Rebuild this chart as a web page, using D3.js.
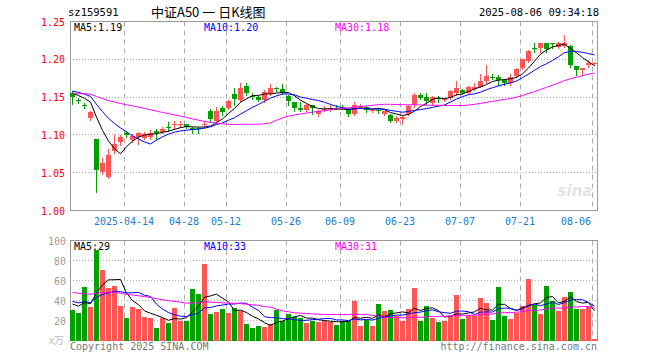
<!DOCTYPE html>
<html><head><meta charset="utf-8">
<script src="https://cdn.jsdelivr.net/npm/d3@7"></script>
<style>body{margin:0;background:#fff}svg{display:block}</style>
</head><body><svg id="c" width="660" height="360"></svg>
<script>
// ---------- data ----------
const dates = ["2025-03-31","2025-04-01","2025-04-02","2025-04-03","2025-04-07","2025-04-08","2025-04-09","2025-04-10","2025-04-11",
"2025-04-14","2025-04-15","2025-04-16","2025-04-17","2025-04-18","2025-04-21","2025-04-22","2025-04-23","2025-04-24","2025-04-25",
"2025-04-28","2025-04-29","2025-04-30","2025-05-06","2025-05-07","2025-05-08","2025-05-09",
"2025-05-12","2025-05-13","2025-05-14","2025-05-15","2025-05-16","2025-05-19","2025-05-20","2025-05-21","2025-05-22","2025-05-23",
"2025-05-26","2025-05-27","2025-05-28","2025-05-29","2025-05-30","2025-06-03","2025-06-04","2025-06-05","2025-06-06",
"2025-06-09","2025-06-10","2025-06-11","2025-06-12","2025-06-13","2025-06-16","2025-06-17","2025-06-18","2025-06-19","2025-06-20",
"2025-06-23","2025-06-24","2025-06-25","2025-06-26","2025-06-27","2025-06-30","2025-07-01","2025-07-02","2025-07-03","2025-07-04",
"2025-07-07","2025-07-08","2025-07-09","2025-07-10","2025-07-11","2025-07-14","2025-07-15","2025-07-16","2025-07-17","2025-07-18",
"2025-07-21","2025-07-22","2025-07-23","2025-07-24","2025-07-25","2025-07-28","2025-07-29","2025-07-30","2025-07-31","2025-08-01",
"2025-08-04","2025-08-05","2025-08-06"];
const opens  = [1.155,1.146,1.140,1.122,1.095,1.051,1.044,1.079,1.090,1.102,1.093,1.097,1.096,1.097,1.105,1.104,1.110,1.113,1.113,
1.114,1.109,1.109,1.113,1.131,1.118,1.136,1.135,1.154,1.146,1.165,1.152,1.150,1.146,1.154,1.162,1.161,1.152,1.143,1.136,1.133,1.139,
1.127,1.133,1.134,1.136,1.137,1.134,1.127,1.136,1.137,1.132,1.133,1.128,1.126,1.119,1.121,1.127,1.139,1.153,1.150,1.142,1.149,1.146,
1.149,1.155,1.159,1.156,1.161,1.164,1.171,1.177,1.176,1.172,1.168,1.178,1.188,1.198,1.215,1.215,1.221,1.221,1.216,1.217,1.217,1.191,
1.186,1.193,1.194];
const highs  = [1.158,1.149,1.142,1.131,1.095,1.069,1.081,1.100,1.100,1.105,1.101,1.104,1.104,1.106,1.108,1.110,1.117,1.118,1.118,
1.115,1.110,1.111,1.117,1.134,1.137,1.138,1.146,1.162,1.169,1.169,1.155,1.151,1.160,1.167,1.164,1.167,1.153,1.144,1.143,1.141,1.140,
1.133,1.138,1.139,1.139,1.140,1.136,1.144,1.141,1.138,1.134,1.135,1.132,1.127,1.125,1.126,1.139,1.155,1.155,1.156,1.151,1.151,1.149,
1.159,1.171,1.161,1.165,1.169,1.180,1.192,1.180,1.179,1.174,1.181,1.188,1.201,1.212,1.222,1.222,1.221,1.221,1.223,1.232,1.219,1.191,
1.188,1.199,1.196];
const lows   = [1.141,1.142,1.135,1.120,1.024,1.048,1.043,1.076,1.087,1.097,1.091,1.088,1.094,1.095,1.095,1.102,1.105,1.108,1.110,
1.109,1.103,1.103,1.111,1.117,1.116,1.126,1.134,1.140,1.145,1.153,1.147,1.145,1.144,1.153,1.158,1.154,1.140,1.132,1.132,1.132,1.127,
1.125,1.132,1.132,1.134,1.134,1.125,1.126,1.135,1.130,1.130,1.129,1.126,1.117,1.117,1.115,1.126,1.137,1.147,1.141,1.140,1.144,1.145,
1.147,1.153,1.154,1.155,1.160,1.163,1.169,1.174,1.166,1.166,1.166,1.177,1.187,1.196,1.209,1.209,1.209,1.215,1.215,1.216,1.190,1.179,
1.179,1.190,1.193];
const closes = [1.150,1.145,1.139,1.130,1.053,1.063,1.074,1.088,1.097,1.100,1.099,1.102,1.101,1.103,1.103,1.108,1.109,1.114,1.114,
1.110,1.106,1.108,1.114,1.121,1.132,1.130,1.145,1.147,1.162,1.155,1.151,1.146,1.157,1.162,1.161,1.155,1.145,1.136,1.133,1.139,1.135,
1.131,1.134,1.135,1.135,1.136,1.127,1.140,1.138,1.133,1.133,1.132,1.131,1.119,1.123,1.124,1.138,1.153,1.149,1.145,1.150,1.148,1.147,
1.158,1.162,1.156,1.164,1.164,1.171,1.178,1.176,1.173,1.168,1.176,1.187,1.200,1.211,1.214,1.222,1.214,1.220,1.222,1.222,1.193,1.186,
1.188,1.195,1.195];
// volume, unit: 万
const volumes = [31,28,54,34,91,71,53,55,35,23,34,32,24,23,13,23,18,33,20,20,52,47,77,27,29,32,28,33,30,17,13,15,14,17,31,20,27,24,23,
18,20,19,20,19,16,20,20,40,15,21,15,37,30,31,25,20,32,53,20,35,23,19,20,25,46,22,25,25,43,38,21,54,25,22,28,35,62,36,27,55,40,30,44,
49,32,32,34,1.5];
// closes / volumes of the 29 sessions before the window (used only for the moving averages)
const priorCloses = [1.140,1.142,1.145,1.148,1.150,1.147,1.150,1.152,1.149,1.146,1.150,1.153,1.156,1.158,1.160,1.157,1.162,1.165,
1.163,1.160,1.161,1.163,1.160,1.158,1.160,1.162,1.157,1.155,1.153];
const priorVolumes = [58,62,55,60,52,57,49,53,61,50,56,48,52,47,54,49,51,46,50,44,43,40,45,39,42,38,36,40,37];
const priceTicks = [1.00,1.05,1.10,1.15,1.20,1.25];
const volumeTicks = [20,40,60,80,100];
const dateTicks = ["2025-04-14","2025-04-28","2025-05-12","2025-05-26","2025-06-09","2025-06-23","2025-07-07","2025-07-21","2025-08-06"];
const dateTickLabels = ["2025-04-14","04-28","05-12","05-26","06-09","06-23","07-07","07-21","08-06"];
const maPeriods = [5,10,30];
const priceMaLabels = ["MA5:1.19","MA10:1.20","MA30:1.18"];
const volumeMaLabels = ["MA5:29","MA10:33","MA30:31"];

// ---------- drawing ----------
const svg = d3.select("#c");
const mono = "'DejaVu Sans Mono', monospace";
const RED = "#ff5555", GREEN = "#00a000", GRID = "#aaaaaa", FRAME = "#999999";
const maColors = ["#000000","#0000ff","#ff00ff"];

const x = d3.scaleBand().domain(dates).range([70, 597]).paddingInner(1/6).paddingOuter(0);
const yP = d3.scaleLinear().domain([1.0, 1.25]).range([210.5, 21.5]);
const yV = d3.scaleLinear().domain([0, 100]).range([340.5, 240.5]);
const cx = d => x(d) + 2.5;
const snap = v => Math.round(v - 0.5) + 0.5;

function ma(all, n, offset) {
  return dates.map((d, i) => {
    const end = i + offset;
    return d3.mean(all.slice(end - n + 1, end + 1));
  });
}
const allC = priorCloses.concat(closes), allV = priorVolumes.concat(volumes);
const off = priorCloses.length;

// header
svg.append("text").attr("x", 68).attr("y", 16).attr("font-family", mono).attr("font-size", 10.5).text("sz159591");
svg.append("text").attr("x", 151).attr("y", 17).attr("font-family", "'Noto Sans CJK SC', sans-serif").attr("font-size", 13).text("中证A50 一 日K线图");
svg.append("text").attr("x", 599).attr("y", 16).attr("text-anchor", "end").attr("font-family", mono).attr("font-size", 10.5).text("2025-08-06 09:34:18");

function panel(yScale, ticks, top, bottom) {
  const g = svg.append("g");
  // horizontal dotted grid
  g.selectAll("line.h").data(ticks).join("line")
    .attr("x1", 70).attr("x2", 597).attr("y1", d => snap(yScale(d))).attr("y2", d => snap(yScale(d)))
    .attr("stroke", GRID).attr("stroke-dasharray", "1,2");
  // vertical dashed grid
  g.selectAll("line.v").data(dateTicks).join("line")
    .attr("x1", d => x(d) + 0.5).attr("x2", d => x(d) + 0.5).attr("y1", top).attr("y2", bottom)
    .attr("stroke", GRID).attr("stroke-dasharray", "5,4");
  g.append("rect").attr("x", 70.5).attr("y", top).attr("width", 527).attr("height", bottom - top)
    .attr("fill", "none").attr("stroke", FRAME);
}
panel(yP, priceTicks.filter(t => t > 1.0 && t < 1.25), 21.5, 210.5);
panel(yV, volumeTicks.filter(t => t < 100), 240.5, 340.5);

// price labels
svg.selectAll("text.py").data(priceTicks).join("text")
  .attr("x", 65).attr("y", d => yP(d) + 4).attr("text-anchor", "end")
  .attr("font-family", mono).attr("font-size", 10).attr("fill", "#ff0000").text(d => d.toFixed(2));
// volume labels
svg.selectAll("text.vy").data(volumeTicks).join("text")
  .attr("x", 66).attr("y", d => yV(d) + 4).attr("text-anchor", "end")
  .attr("font-family", mono).attr("font-size", 10).attr("fill", "#999").text(d => d);
svg.append("text").attr("x", 49).attr("y", 344).attr("font-family", "'Noto Sans CJK SC', sans-serif").attr("font-size", 10).attr("fill", "#bbb").text("x万");

// date labels
svg.selectAll("text.dt").data(dateTicks).join("text")
  .attr("x", (d, i) => i === dateTicks.length - 1 ? x(d) - 1 : x(d))
  .attr("y", 225).attr("text-anchor", (d, i) => i === dateTicks.length - 1 ? "end" : "middle")
  .attr("font-family", mono).attr("font-size", 10).attr("fill", "#1a7ad4")
  .text((d, i) => dateTickLabels[i]);

// watermark
svg.append("text").attr("x", 575).attr("y", 196).attr("text-anchor", "middle")
  .attr("font-family", "'DejaVu Sans', sans-serif").attr("font-style", "italic").attr("font-weight", "bold")
  .attr("font-size", 15).attr("fill", "#e4e4e4").text("sina");

// candles
const idx = d3.range(dates.length);
const up = i => closes[i] >= opens[i];
const cg = svg.append("g");
cg.selectAll("rect.wick").data(idx).join("rect")
  .attr("x", i => x(dates[i]) + 2).attr("width", 1)
  .attr("y", i => Math.round(yP(highs[i])))
  .attr("height", i => Math.max(1, Math.round(yP(lows[i])) - Math.round(yP(highs[i])) + 1))
  .attr("fill", i => up(i) ? RED : GREEN);
cg.selectAll("rect.body").data(idx).join("rect")
  .attr("x", i => x(dates[i])).attr("width", x.bandwidth())
  .attr("y", i => Math.round(yP(Math.max(opens[i], closes[i]))))
  .attr("height", i => Math.max(1, Math.round(yP(Math.min(opens[i], closes[i]))) - Math.round(yP(Math.max(opens[i], closes[i])))))
  .attr("fill", i => up(i) ? RED : GREEN);

// volume bars
svg.append("g").selectAll("rect").data(idx).join("rect")
  .attr("x", i => x(dates[i])).attr("width", x.bandwidth())
  .attr("y", i => Math.round(yV(volumes[i])))
  .attr("height", i => Math.max(1, 341 - Math.round(yV(volumes[i]))))
  .attr("fill", i => up(i) ? RED : GREEN);

// moving averages
maPeriods.forEach((n, k) => {
  const pm = ma(allC, n, off), vm = ma(allV, n, off);
  svg.append("path").attr("d", d3.line().x((v, i) => cx(dates[i])).y(v => yP(v))(pm))
    .attr("fill", "none").attr("stroke", maColors[k]).attr("stroke-width", 1);
  svg.append("path").attr("d", d3.line().x((v, i) => cx(dates[i])).y(v => yV(v))(vm))
    .attr("fill", "none").attr("stroke", maColors[k]).attr("stroke-width", 1);
});

// MA legends
const legX = [74, 204, 335];
priceMaLabels.forEach((t, k) => svg.append("text").attr("x", legX[k]).attr("y", 31)
  .attr("font-family", mono).attr("font-size", 10).attr("fill", maColors[k]).text(t));
volumeMaLabels.forEach((t, k) => svg.append("text").attr("x", legX[k]).attr("y", 250)
  .attr("font-family", mono).attr("font-size", 10).attr("fill", maColors[k]).text(t));

// footer
svg.append("text").attr("x", 70).attr("y", 350).attr("font-family", mono).attr("font-size", 10).attr("fill", "#777").text("Copyright 2025 SINA.COM");
svg.append("text").attr("x", 597).attr("y", 350).attr("text-anchor", "end").attr("font-family", mono).attr("font-size", 10).attr("fill", "#777").text("http://finance.sina.com.cn");
</script></body></html>
